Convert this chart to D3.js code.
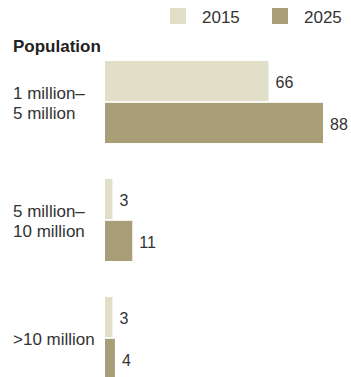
<!DOCTYPE html>
<html>
<head>
<meta charset="utf-8">
<script src="https://cdn.jsdelivr.net/npm/d3@7"></script>
<style>
  html, body { margin: 0; padding: 0; background: #fff; }
  svg { display: block; font-family: "Liberation Sans", Arial, sans-serif; }
</style>
</head>
<body>
<svg id="chart" width="351" height="377"></svg>
<script>
const categories = ["1 million–|5 million", "5 million–|10 million", ">10 million"];
const seriesNames = ["2015", "2025"];
const values2015 = [66, 3, 3];
const values2025 = [88, 11, 4];
const axisTitle = "Population";

const colors = { "2015": "#e2dfc9", "2025": "#a89f79" };
const textColor = "#333333";

const svg = d3.select("#chart");

const data = categories.map((c, i) => ({
  cat: c,
  vals: [
    { s: "2015", v: values2015[i] },
    { s: "2025", v: values2025[i] }
  ]
}));

const x = d3.scaleLinear().domain([0, 88]).range([105, 323]);
const y0 = d3.scaleBand().domain(categories).range([61, 379]).paddingInner(0.305).paddingOuter(0);
const y1 = d3.scaleBand().domain(seriesNames).range([0, y0.bandwidth()]).paddingInner(0.04).paddingOuter(0);
const color = d3.scaleOrdinal().domain(seriesNames).range([colors["2015"], colors["2025"]]);

// Legend
const legendX = { "2015": 170, "2025": 272 };
const legend = svg.append("g");
seriesNames.forEach(s => {
  legend.append("rect")
    .attr("x", legendX[s]).attr("y", 8)
    .attr("width", 16).attr("height", 16)
    .attr("fill", color(s));
  legend.append("text")
    .attr("x", legendX[s] + 32).attr("y", 17)
    .attr("dy", "0.35em")
    .attr("font-size", 17)
    .attr("fill", textColor)
    .text(s);
});

// Title
svg.append("text")
  .attr("x", 13).attr("y", 46)
  .attr("dy", "0.35em")
  .attr("font-size", 17)
  .attr("font-weight", "bold")
  .attr("fill", "#222")
  .text(axisTitle);

// Groups
const g = svg.selectAll("g.grp").data(data).enter().append("g")
  .attr("class", "grp")
  .attr("transform", d => `translate(0,${y0(d.cat)})`);

g.selectAll("rect").data(d => d.vals).enter().append("rect")
  .attr("x", x(0))
  .attr("y", d => y1(d.s))
  .attr("width", d => x(d.v) - x(0))
  .attr("height", y1.bandwidth())
  .attr("fill", d => color(d.s));

g.selectAll("text.val").data(d => d.vals).enter().append("text")
  .attr("class", "val")
  .attr("x", d => x(d.v) + 7)
  .attr("y", d => y1(d.s) + y1.bandwidth() / 2 + 1)
  .attr("dy", "0.35em")
  .attr("font-size", 16)
  .attr("fill", textColor)
  .text(d => d.v);

// Category labels
g.each(function(d) {
  const lines = d.cat.split("|");
  const lh = 20;
  const cy = y0.bandwidth() / 2 + 1;
  const t = d3.select(this).append("text")
    .attr("font-size", 17)
    .attr("fill", textColor);
  lines.forEach((ln, i) => {
    t.append("tspan")
      .attr("x", 13)
      .attr("y", cy + (i - (lines.length - 1) / 2) * lh)
      .attr("dy", "0.35em")
      .text(ln);
  });
});
</script>
</body>
</html>
